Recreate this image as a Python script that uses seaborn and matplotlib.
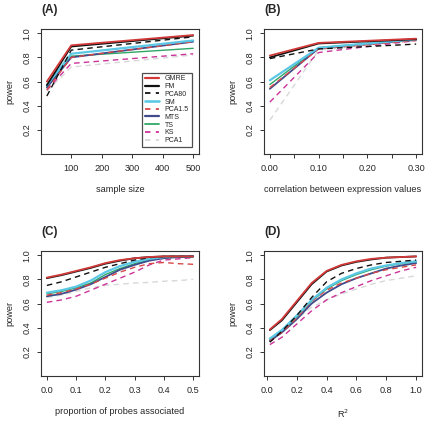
import numpy as np
import pandas as pd
import matplotlib
matplotlib.use("Agg")
import matplotlib.pyplot as plt
import seaborn as sns
from matplotlib.lines import Line2D

sns.set_style("ticks")
plt.rcParams['font.family'] = ['Liberation Sans', 'DejaVu Sans']

methods = ["GMRE", "FM", "PCA80", "SM", "PCA1.5", "MTS", "TS", "KS", "PCA1"]
colors = ["#D23A3A", "#111111", "#111111", "#5CC8E6", "#D94848", "#3F4A8A", "#2FA866", "#CC3399", "#D8D8D8"]
dashed = [False, False, True, False, True, False, False, True, True]
widths = [1.3, 1.3, 1.0, 1.6, 1.0, 1.3, 1.0, 1.0, 1.0]

# Panel A: sample size
xA = [20, 100, 500]
yA = {
    "GMRE":   [0.60, 0.90, 0.985],
    "FM":     [0.57, 0.89, 0.980],
    "PCA80":  [0.48, 0.86, 0.970],
    "SM":     [0.57, 0.83, 0.940],
    "PCA1.5": [0.53, 0.80, 0.930],
    "MTS":    [0.55, 0.80, 0.930],
    "TS":     [0.56, 0.81, 0.875],
    "KS":     [0.53, 0.75, 0.830],
    "PCA1":   [0.52, 0.72, 0.820],
}

# Panel B: correlation between expression values
xB = [0.0, 0.1, 0.3]
yB = {
    "GMRE":   [0.815, 0.920, 0.955],
    "FM":     [0.800, 0.915, 0.950],
    "PCA80":  [0.790, 0.870, 0.910],
    "SM":     [0.610, 0.880, 0.950],
    "PCA1.5": [0.550, 0.870, 0.940],
    "MTS":    [0.540, 0.875, 0.945],
    "TS":     [0.575, 0.880, 0.950],
    "KS":     [0.430, 0.840, 0.940],
    "PCA1":   [0.280, 0.860, 0.945],
}

# Panel C: proportion of probes associated
xC = [0.0, 0.05, 0.1, 0.15, 0.2, 0.25, 0.3, 0.35, 0.4, 0.45, 0.5]
yC = {
    "GMRE":   [0.815, 0.840, 0.870, 0.900, 0.935, 0.960, 0.975, 0.985, 0.990, 0.990, 0.990],
    "FM":     [0.810, 0.835, 0.865, 0.895, 0.930, 0.955, 0.975, 0.985, 0.990, 0.990, 0.990],
    "PCA80":  [0.750, 0.780, 0.820, 0.860, 0.900, 0.930, 0.960, 0.980, 0.990, 0.990, 0.990],
    "SM":     [0.690, 0.710, 0.740, 0.790, 0.860, 0.910, 0.945, 0.970, 0.985, 0.990, 0.990],
    "PCA1.5": [0.670, 0.690, 0.720, 0.760, 0.810, 0.860, 0.900, 0.930, 0.940, 0.930, 0.925],
    "MTS":    [0.660, 0.680, 0.715, 0.760, 0.820, 0.880, 0.920, 0.955, 0.975, 0.985, 0.990],
    "TS":     [0.680, 0.700, 0.730, 0.770, 0.840, 0.890, 0.930, 0.960, 0.980, 0.985, 0.990],
    "KS":     [0.610, 0.630, 0.660, 0.710, 0.760, 0.810, 0.860, 0.920, 0.960, 0.970, 0.980],
    "PCA1":   [0.650, 0.670, 0.700, 0.730, 0.750, 0.760, 0.770, 0.775, 0.785, 0.790, 0.800],
}

# Panel D: R^2
xD = [0.02, 0.1, 0.2, 0.3, 0.4, 0.5, 0.6, 0.7, 0.8, 0.9, 1.0]
yD = {
    "GMRE":   [0.385, 0.470, 0.620, 0.770, 0.870, 0.920, 0.950, 0.970, 0.980, 0.985, 0.990],
    "FM":     [0.380, 0.460, 0.610, 0.760, 0.865, 0.915, 0.945, 0.965, 0.980, 0.985, 0.990],
    "PCA80":  [0.280, 0.370, 0.500, 0.650, 0.780, 0.850, 0.890, 0.920, 0.940, 0.950, 0.960],
    "SM":     [0.310, 0.380, 0.500, 0.630, 0.730, 0.800, 0.850, 0.890, 0.915, 0.935, 0.950],
    "PCA1.5": [0.290, 0.360, 0.480, 0.620, 0.710, 0.770, 0.810, 0.850, 0.880, 0.900, 0.920],
    "MTS":    [0.290, 0.360, 0.470, 0.600, 0.690, 0.760, 0.810, 0.850, 0.890, 0.915, 0.935],
    "TS":     [0.300, 0.370, 0.490, 0.620, 0.720, 0.790, 0.840, 0.880, 0.910, 0.930, 0.945],
    "KS":     [0.260, 0.320, 0.430, 0.540, 0.630, 0.690, 0.740, 0.790, 0.830, 0.870, 0.900],
    "PCA1":   [0.290, 0.360, 0.470, 0.570, 0.630, 0.680, 0.720, 0.760, 0.790, 0.810, 0.830],
}

W, H = 427, 422
fig = plt.figure(figsize=(W / 100, H / 100), dpi=100)

def add_ax(x0, x1, ytop, ybot):
    return fig.add_axes([x0 / W, 1 - ybot / H, (x1 - x0) / W, (ybot - ytop) / H])

axA = add_ax(41, 199, 29, 154)
axB = add_ax(264, 422, 29, 154)
axC = add_ax(41, 199, 251, 376)
axD = add_ax(264, 422, 251, 376)

fs = 6.6
draw_order = ["PCA1", "KS", "TS", "MTS", "PCA1.5", "SM", "PCA80", "FM", "GMRE"]

def draw(ax, xs, ys, xlabel, title, xticks, xticklabels, minor=None):
    for m in draw_order:
        i = methods.index(m)
        df = pd.DataFrame({"x": xs, "y": ys[m]})
        sns.lineplot(data=df, x="x", y="y", ax=ax, color=colors[i],
                     linewidth=widths[i], linestyle=(0, (4, 3)) if dashed[i] else "-",
                     label=m, legend=False)
    span = max(xs) - min(xs)
    ax.set_xlim(min(xs) - 0.04 * span, max(xs) + 0.04 * span)
    ax.set_ylim(0.0, 1.035)
    ax.set_yticks([0.2, 0.4, 0.6, 0.8, 1.0])
    ax.set_yticklabels(["0.2", "0.4", "0.6", "0.8", "1.0"], rotation=90, va="center", fontsize=fs)
    ax.set_xticks(xticks)
    ax.set_xticklabels(xticklabels, fontsize=fs)
    if minor is not None:
        ax.set_xticks(minor, minor=True)
        ax.tick_params(axis="x", which="minor", length=3, width=0.7, color="#333333")
    ax.set_xlabel(xlabel, fontsize=fs, labelpad=9)
    ax.set_ylabel("power", fontsize=fs, labelpad=6)
    ax.tick_params(axis="both", length=3, width=0.7, color="#333333", pad=4)
    for s in ax.spines.values():
        s.set_visible(True)
        s.set_linewidth(0.8)
        s.set_color("#333333")
    ax.text(0.0, 1.1, title, transform=ax.transAxes, fontsize=8.5,
            fontweight="bold", ha="left", va="bottom")

draw(axA, xA, yA, "sample size", "(A)", [100, 200, 300, 400, 500],
     ["100", "200", "300", "400", "500"])
draw(axB, xB, yB, "correlation between expression values", "(B)",
     [0.0, 0.1, 0.2, 0.3], ["0.00", "0.10", "0.20", "0.30"], minor=[0.05, 0.15, 0.25])
draw(axC, xC, yC, "proportion of probes associated", "(C)",
     [0.0, 0.1, 0.2, 0.3, 0.4, 0.5], ["0.0", "0.1", "0.2", "0.3", "0.4", "0.5"])
draw(axD, xD, yD, "R$^2$", "(D)",
     [0.0, 0.2, 0.4, 0.6, 0.8, 1.0], ["0.0", "0.2", "0.4", "0.6", "0.8", "1.0"])

handles = [Line2D([0], [0], color=colors[i], linewidth=widths[i] + 0.3,
                  linestyle=(0, (3, 3)) if dashed[i] else "-") for i in range(len(methods))]
leg = axA.legend(handles, methods, loc="lower right", bbox_to_anchor=(0.975, 0.03),
                 fontsize=5, frameon=True, fancybox=False, handlelength=2.0,
                 labelspacing=0.1, borderpad=0.4, handletextpad=0.8)
leg.get_frame().set_edgecolor("#222222")
leg.get_frame().set_linewidth(0.9)

fig.savefig("out.png", dpi=100)
